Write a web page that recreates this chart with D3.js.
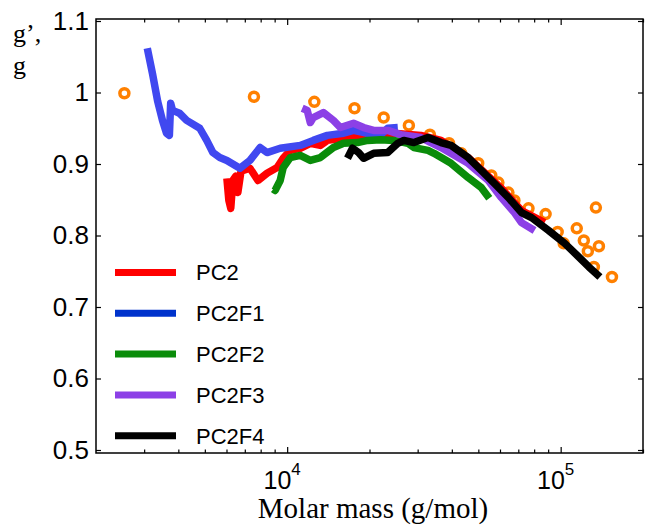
<!DOCTYPE html>
<html>
<head>
<meta charset="utf-8">
<script src="https://cdn.jsdelivr.net/npm/d3@7"></script>
<style>
  body { margin: 0; background: #fff; }
  svg { display: block; }
  .tick line { stroke: #000; }
</style>
</head>
<body>
<script>
// molar mass (g/mol) vs g' / g
var pc2 = [{x:6020,y:0.880},{x:6120,y:0.849},{x:6220,y:0.838},{x:6330,y:0.877},{x:6490,y:0.883},{x:6600,y:0.860},{x:6780,y:0.890},{x:7310,y:0.894},{x:7820,y:0.877},{x:8440,y:0.887},{x:9190,y:0.895},{x:9670,y:0.908},{x:10260,y:0.919},{x:11160,y:0.922},{x:12150,y:0.929},{x:13220,y:0.926},{x:14030,y:0.933},{x:17480,y:0.938},{x:20710,y:0.941},{x:24530,y:0.943},{x:30830,y:0.940},{x:36520,y:0.933},{x:45890,y:0.909},{x:60710,y:0.866},{x:71900,y:0.835},{x:87350,y:0.818}]

var pc2f1 = [{x:3080,y:1.062},{x:3220,y:1.026},{x:3360,y:0.988},{x:3500,y:0.961},{x:3620,y:0.943},{x:3710,y:0.940},{x:3750,y:0.985},{x:3810,y:0.975},{x:4040,y:0.971},{x:4290,y:0.961},{x:4790,y:0.950},{x:5080,y:0.933},{x:5350,y:0.916},{x:5670,y:0.909},{x:6020,y:0.905},{x:6720,y:0.894},{x:7310,y:0.905},{x:7960,y:0.923},{x:8440,y:0.916},{x:9430,y:0.922},{x:11160,y:0.926},{x:12460,y:0.933},{x:14030,y:0.940},{x:16070,y:0.943},{x:17480,y:0.947},{x:19680,y:0.943},{x:21430,y:0.937},{x:23320,y:0.950},{x:25380,y:0.951}]

var pc2f2 = [{x:8900,y:0.865},{x:9030,y:0.863},{x:9430,y:0.877},{x:9670,y:0.895},{x:10260,y:0.909},{x:11160,y:0.912},{x:12150,y:0.905},{x:13220,y:0.909},{x:14760,y:0.923},{x:16070,y:0.929},{x:18090,y:0.930},{x:19680,y:0.933},{x:21980,y:0.934},{x:24530,y:0.933},{x:27620,y:0.929},{x:29060,y:0.923},{x:32720,y:0.919},{x:34420,y:0.915},{x:39740,y:0.901},{x:45890,y:0.881},{x:51230,y:0.867},{x:54830,y:0.852}]

var pc2f3 = [{x:11350,y:0.978},{x:11840,y:0.975},{x:12150,y:0.958},{x:12460,y:0.965},{x:13560,y:0.972},{x:14760,y:0.961},{x:15660,y:0.951},{x:17480,y:0.957},{x:19030,y:0.951},{x:20710,y:0.947},{x:23320,y:0.947},{x:26030,y:0.941},{x:30830,y:0.937},{x:36520,y:0.923},{x:45890,y:0.901},{x:54370,y:0.877},{x:60710,y:0.853},{x:67750,y:0.832},{x:71900,y:0.818},{x:80250,y:0.807}]

var pc2f4 = [{x:16620,y:0.908},{x:17340,y:0.922},{x:18240,y:0.916},{x:19030,y:0.908},{x:20710,y:0.915},{x:23320,y:0.916},{x:25380,y:0.929},{x:26700,y:0.933},{x:29060,y:0.930},{x:32720,y:0.937},{x:36520,y:0.930},{x:39740,y:0.926},{x:45890,y:0.909},{x:51230,y:0.891},{x:57210,y:0.873},{x:64400,y:0.853},{x:71900,y:0.832},{x:78240,y:0.825},{x:90350,y:0.807},{x:103440,y:0.789},{x:116490,y:0.770},{x:126760,y:0.756},{x:139180,y:0.742}]

var gMarkers = [{x:2540,y:0.999},{x:7560,y:0.994},{x:12570,y:0.987},{x:17630,y:0.978},{x:22540,y:0.965},{x:27860,y:0.954},{x:33270,y:0.941},{x:39070,y:0.929},{x:43250,y:0.915},{x:49950,y:0.901},{x:55770,y:0.884},{x:59190,y:0.874},{x:64400,y:0.860},{x:67750,y:0.849},{x:76280,y:0.838},{x:88090,y:0.830},{x:97500,y:0.805},{x:102570,y:0.789},{x:114500,y:0.810},{x:121520,y:0.793},{x:125700,y:0.778},{x:138000,y:0.785},{x:134510,y:0.839},{x:132230,y:0.756},{x:154000,y:0.742}]

var seriesNames = ["PC2","PC2F1","PC2F2","PC2F3","PC2F4"]
var seriesData = [pc2, pc2f1, pc2f2, pc2f3, pc2f4]
var lineColors = ["#ff0000","#4048f0","#0a8c0a","#8c40e6","#000000"]
var legendColors = ["#ff0000","#0033cc","#0a8c0a","#8c40e6","#000000"]

var yTicks = [0.5,0.6,0.7,0.8,0.9,1,1.1]
var yTickLabels = ["0.5","0.6","0.7","0.8","0.9","1","1.1"]
var xMajor = [1e4, 1e5]
var xMajorExp = ["4","5"]
var xMinor = [3000,4000,5000,6000,7000,8000,9000,20000,30000,40000,50000,60000,70000,80000,90000,200000]

var sans = "'Liberation Sans', Arial, Helvetica, sans-serif"
var serif = "'Liberation Serif', 'Times New Roman', serif"

var svg = d3.select("body")
  .append("svg")
  .attr("width",645)
  .attr("height",529)

var plotL = 96, plotR = 643, plotT = 19, plotB = 453

var xScale = d3.scaleLog()
  .domain([2000,200000])
  .range([plotL,plotR])

var yScale = d3.scaleLinear()
  .domain([0.4958,1.1028])
  .range([plotB,plotT])

// ticks: inward on all four sides
function tickG(axis, tx, ty){
  var g = svg.append("g").attr("transform","translate("+tx+","+ty+")").call(axis)
  g.select(".domain").remove()
  g.selectAll(".tick line").attr("stroke-width",1.2)
  return g
}

tickG(d3.axisBottom(xScale).tickValues(xMinor).tickSize(-3.5).tickFormat(""), 0, plotB)
tickG(d3.axisBottom(xScale).tickValues(xMajor).tickSize(-6).tickFormat(""), 0, plotB)
tickG(d3.axisTop(xScale).tickValues(xMinor).tickSize(-3.5).tickFormat(""), 0, plotT)
tickG(d3.axisTop(xScale).tickValues(xMajor).tickSize(-6).tickFormat(""), 0, plotT)
tickG(d3.axisRight(yScale).tickValues(yTicks).tickSize(-5).tickFormat(""), plotR, 0)

var yAxisG = tickG(d3.axisLeft(yScale).tickValues(yTicks).tickSize(-5).tickPadding(7)
  .tickFormat(function(d,i){ return yTickLabels[i] }), plotL, 0)
yAxisG.selectAll("text")
  .attr("font-family",sans)
  .attr("font-size",26)
  .attr("fill","#000")

// frame
svg.append("rect")
  .attr("x",plotL).attr("y",plotT)
  .attr("width",plotR-plotL).attr("height",plotB-plotT)
  .attr("fill","none")
  .attr("stroke","#000")
  .attr("stroke-width",1.5)

// x tick labels 10^n
var xl = svg.selectAll(".xlab")
  .data(xMajor)
  .enter()
  .append("text")
  .attr("class","xlab")
  .attr("x",function(d){ return xScale(d) - 5 })
  .attr("y",489)
  .attr("text-anchor","middle")
  .attr("font-family",sans)
  .attr("font-size",25)
xl.append("tspan").text("10")
xl.append("tspan")
  .attr("dy",-14)
  .attr("font-size",17)
  .text(function(d,i){ return xMajorExp[i] })

// axis titles
svg.append("text")
  .text("Molar mass (g/mol)")
  .attr("x",373).attr("y",518)
  .attr("text-anchor","middle")
  .attr("font-family",serif)
  .attr("font-size",29)

svg.append("text").text("g\u2019,")
  .attr("x",13).attr("y",42)
  .attr("font-family",serif).attr("font-size",26)
svg.append("text").text("g")
  .attr("x",13).attr("y",74)
  .attr("font-family",serif).attr("font-size",26)

// markers (behind the curves)
svg.append("g").selectAll("circle")
  .data(gMarkers)
  .enter()
  .append("circle")
  .attr("cx",function(d){ return xScale(d.x) })
  .attr("cy",function(d){ return yScale(d.y) })
  .attr("r",4.5)
  .attr("fill","none")
  .attr("stroke","#ff8000")
  .attr("stroke-width",3.5)

var line = d3.line()
  .x(function(d){ return xScale(d.x) })
  .y(function(d){ return yScale(d.y) })

svg.append("g").selectAll("path")
  .data(seriesData)
  .enter()
  .append("path")
  .attr("d",line)
  .attr("fill","none")
  .attr("stroke",function(d,i){ return lineColors[i] })
  .attr("stroke-width",7.5)
  .attr("stroke-linejoin","round")
  .attr("stroke-linecap","butt")

// legend
var lg = svg.append("g").selectAll("g")
  .data(seriesNames)
  .enter()
  .append("g")
  .attr("transform",function(d,i){ return "translate(115,"+(272.5 + i*40.8)+")" })
lg.append("line")
  .attr("x1",0).attr("x2",61)
  .attr("stroke",function(d,i){ return legendColors[i] })
  .attr("stroke-width",7)
lg.append("text")
  .text(function(d){ return d })
  .attr("x",81).attr("dy","0.36em")
  .attr("font-family",sans)
  .attr("font-size",22)
</script>
</body>
</html>
